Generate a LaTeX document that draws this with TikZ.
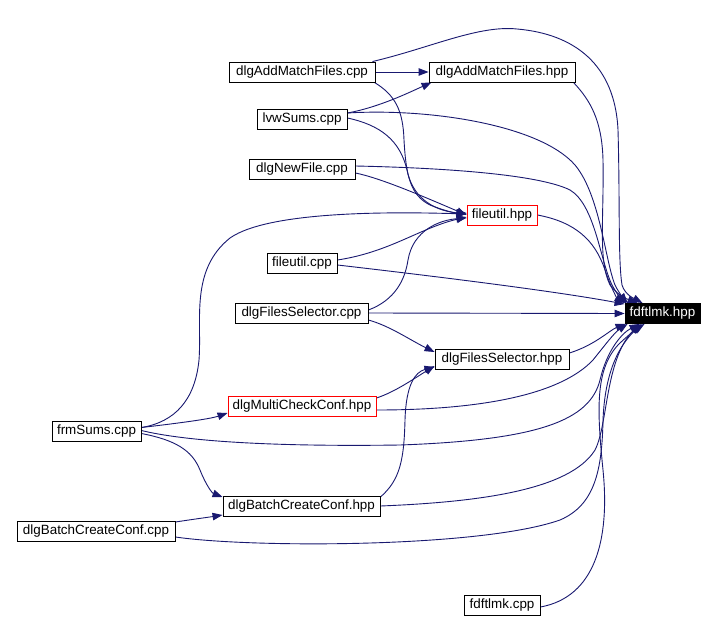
\documentclass[tikz,border=0pt]{standalone}
\usepackage{fontspec}
\setmainfont{Liberation Sans}
\usetikzlibrary{arrows.meta}
\definecolor{edgeblue}{RGB}{25,25,112}
\pgfdeclarelayer{edgelayer}
\pgfsetlayers{edgelayer,main}
\begin{document}
\begin{tikzpicture}[x=1bp,y=-1bp,
  box/.style={draw=black,line width=0.9bp,inner sep=0pt,minimum height=20bp,
    font=\fontsize{13.4bp}{15bp}\selectfont,fill=white},
  redbox/.style={box,draw=red},
  rootbox/.style={box,fill=black,text=white},
  edge/.style={draw=edgeblue,line width=0.9bp,-{Triangle[length=10bp,width=7.5bp]}}]
\useasboundingbox (0,0) rectangle (716,620);

\node[box,minimum width=146bp] (amfc) at (302,72) {dlgAddMatchFiles.cpp};
\node[box,minimum width=146bp] (amfh) at (502,72) {dlgAddMatchFiles.hpp};
\node[box,minimum width=90bp] (lvw) at (302,119) {lvwSums.cpp};
\node[box,minimum width=106bp] (nfc) at (302,169) {dlgNewFile.cpp};
\node[redbox,minimum width=70bp] (fuh) at (502,215) {fileutil.hpp};
\node[box,minimum width=70bp] (fuc) at (302,263) {fileutil.cpp};
\node[box,minimum width=133bp] (fsc) at (301.5,313) {dlgFilesSelector.cpp};
\node[box,minimum width=134bp] (fsh) at (502,359) {dlgFilesSelector.hpp};
\node[rootbox,minimum width=75bp] (fdh) at (662.5,313.5) {fdftlmk.hpp};
\node[redbox,minimum width=148bp] (mcc) at (302,406) {dlgMultiCheckConf.hpp};
\node[box,minimum width=89bp] (frm) at (96.5,431.5) {frmSums.cpp};
\node[box,minimum width=157bp] (bch) at (301.5,506) {dlgBatchCreateConf.hpp};
\node[box,minimum width=158bp] (bcc) at (96,531) {dlgBatchCreateConf.cpp};
\node[box,minimum width=76bp] (fdc) at (502,605) {fdftlmk.cpp};

\begin{pgfonlayer}{edgelayer}
\fill[white] (0,0) rectangle (716,620);
\begin{scope}[every path/.style={edge}]
% E1
\path (amfc.east) -- (amfh.west);
% E2
\path ([xshift=-3bp]amfc.north east) .. controls (430,48) and (478,25) .. (517,29)
  .. controls (575,34) and (615,65) .. (618,130)
  .. controls (620,200) and (618,260) .. (622,285)
  .. controls (625,295) and (635,299) .. ([xshift=18bp]fdh.north west);
% E3
\path ([xshift=-1bp]amfc.south east) .. controls (395,95) and (403,110) .. (404,140)
  .. controls (406,175) and (410,195) .. (430,205)
  .. controls (445,211) and (455,213) .. ([yshift=2bp]fuh.west);
% E4
\path ([xshift=-2bp]amfh.south east) .. controls (590,100) and (602,120) .. (603,160)
  .. controls (604,220) and (598,260) .. (610,285)
  .. controls (620,298) and (630,300) .. ([xshift=13bp]fdh.north west);
% E5
\path ([yshift=6bp]lvw.east) .. controls (380,107) and (410,92) .. ([xshift=3bp]amfh.south west);
% E6
\path ([yshift=6bp]lvw.east) .. controls (430,108) and (540,125) .. (575,165)
  .. controls (600,195) and (605,260) .. (615,285)
  .. controls (620,295) and (625,300) .. ([xshift=3bp]fdh.north west);
% E7
\path ([yshift=1bp]lvw.east) .. controls (380,125) and (400,140) .. (407,170)
  .. controls (412,195) and (430,210) .. ([yshift=1bp]fuh.west);
% E8
\path ([yshift=3bp]nfc.east) .. controls (450,168) and (540,175) .. (570,190)
  .. controls (595,205) and (600,260) .. (612,285)
  .. controls (618,296) and (623,301) .. ([xshift=2bp]fdh.north west);
% E9
\path ([yshift=-4bp]nfc.east) .. controls (380,178) and (420,195) .. (fuh.west);
% E10
\path (fuh.east) .. controls (575,222) and (595,240) .. (605,270)
  .. controls (611,288) and (617,298) .. (fdh.north west);
% E11
\path ([yshift=4bp]frm.east) .. controls (175,422) and (195,400) .. (199,360)
  .. controls (202,320) and (190,270) .. (230,238)
  .. controls (270,210) and (400,212) .. ([yshift=1bp]fuh.west);
% E12
\path ([yshift=3bp]fuc.east) .. controls (390,252) and (420,228) .. ([yshift=-2bp]fuh.west);
% E13
\path ([yshift=-2bp]fuc.east) .. controls (450,278) and (560,292) .. ([yshift=-1bp]fdh.north west);
% E14
\path ([yshift=3bp]fsc.east) .. controls (395,300) and (405,280) .. (408,260)
  .. controls (413,230) and (440,220) .. ([yshift=-3bp]fuh.west);
% E15
\path (fsc.east) -- (fdh.west);
% E16
\path ([yshift=-7bp]fsc.east) .. controls (390,326) and (410,340) .. ([yshift=7bp]fsh.west);
% E17
\path ([yshift=6bp]fsh.east) .. controls (595,345) and (610,330) .. ([xshift=1bp]fdh.south west);
% E18
\path ([yshift=8bp]mcc.east) .. controls (395,392) and (415,378) .. ([yshift=-7bp]fsh.west);
% E19
\path ([yshift=-4bp]mcc.east) .. controls (480,410) and (560,395) .. (593,360)
  .. controls (605,345) and (615,332) .. ([xshift=3bp]fdh.south west);
% E20
\path ([yshift=4bp]frm.east) .. controls (180,423) and (210,419) .. ([yshift=-7bp]mcc.west);
% E21
\path ([yshift=1bp]frm.east) .. controls (180,440) and (260,447) .. (400,445)
  .. controls (540,440) and (590,420) .. (600,380)
  .. controls (607,350) and (622,333) .. ([xshift=15bp]fdh.south west);
% E22
\path ([yshift=-2bp]frm.east) .. controls (175,440) and (192,450) .. (200,470)
  .. controls (206,485) and (212,493) .. ([yshift=9bp]bch.west);
% E23
\path ([yshift=9bp]bch.east) .. controls (400,480) and (404,460) .. (405,420)
  .. controls (406,385) and (415,372) .. ([yshift=-8bp]fsh.west);
% E24
\path (bch.east) .. controls (480,502) and (570,490) .. (595,450)
  .. controls (608,425) and (605,360) .. ([xshift=15bp]fdh.south west);
% E25
\path ([yshift=9bp]bcc.east) .. controls (195,519) and (210,517) .. ([yshift=-9bp]bch.west);
% E26
\path ([yshift=-6bp]bcc.east) .. controls (250,548) and (480,548) .. (560,520)
  .. controls (595,505) and (602,470) .. (603,420)
  .. controls (605,370) and (620,345) .. ([xshift=17bp]fdh.south west);
% E27
\path ([yshift=-2bp]fdc.east) .. controls (595,597) and (610,540) .. (603,470)
  .. controls (597,410) and (595,370) .. (618,345)
  .. controls (628,335) and (638,328) .. ([xshift=20bp]fdh.south west);
\end{scope}
\end{pgfonlayer}
\end{tikzpicture}
\end{document}
